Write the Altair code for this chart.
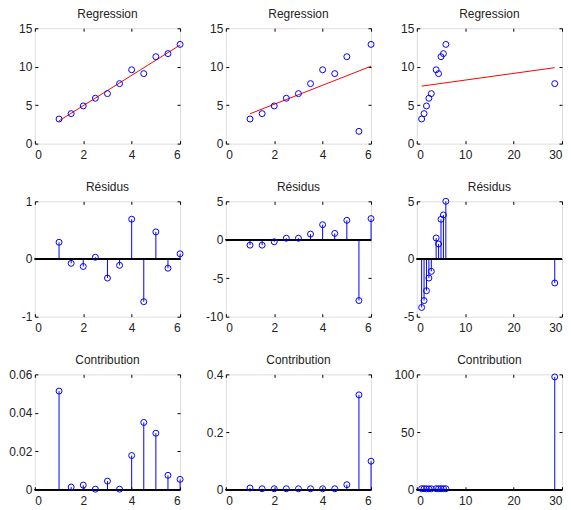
import altair as alt
import pandas as pd

# ---- data ----
x_base = [1, 1.5, 2, 2.5, 3, 3.5, 4, 4.5, 5, 5.5, 6]
y_base = [3.2, 3.9, 4.9, 5.9, 6.5, 7.8, 9.6, 9.1, 11.3, 11.7, 12.9]

x_case2 = [1, 1.5, 2, 2.5, 3, 3.5, 4, 4.5, 5, 5.5, 6]
y_case2 = [3.2, 3.9, 4.9, 5.9, 6.5, 7.8, 9.6, 9.1, 11.3, 1.6, 12.9]

x_case3 = [1, 1.5, 2, 2.5, 3, 28.5, 4, 4.5, 5, 5.5, 6]
y_case3 = [3.2, 3.9, 4.9, 5.9, 6.5, 7.8, 9.6, 9.1, 11.3, 11.7, 12.9]

res1 = [0.29, -0.075, -0.13, 0.03, -0.33, -0.11, 0.69, -0.74, 0.47, -0.16, 0.09]
res2 = [-0.7, -0.7, -0.26, 0.2, 0.2, 0.74, 1.96, 0.83, 2.53, -7.9, 2.75]
res3 = [-4.2, -3.6, -2.75, -1.65, -1.07, -2.08, 1.82, 1.3, 3.44, 3.82, 5.0]

con1 = [0.0513, 0.0014, 0.0024, 0.0003, 0.0045, 0.0003, 0.0178, 0.035, 0.0294, 0.0075, 0.0054]
con2 = [0.006, 0.0035, 0.0035, 0.0035, 0.0035, 0.0035, 0.0035, 0.0035, 0.0175, 0.329, 0.099]
con3 = [0.9, 0.9, 0.8, 0.8, 0.8, 97.8, 0.9, 0.9, 0.9, 0.9, 0.9]

xdoms = [[0, 6], [0, 6], [0, 30]]
xticks = [[0, 2, 4, 6], [0, 2, 4, 6], [0, 10, 20, 30]]
reg_ydom = [0, 15]
reg_yticks = [0, 5, 10, 15]
res_ydoms = [[-1, 1], [-10, 5], [-5, 5]]
res_yticks = [[-1, 0, 1], [-10, -5, 0, 5], [-5, 0, 5]]
con_ydoms = [[0, 0.06], [0, 0.4], [0, 100]]
con_yticks = [[0, 0.02, 0.04, 0.06], [0, 0.2, 0.4], [0, 50, 100]]

W, H = 146, 116
BLUE = "#0000ff"
RED = "#ff0000"
FONT = "Liberation Sans"
LBL = "'' + datum.value"


def xenc(dom, ticks, main):
    if main:
        ax = alt.Axis(orient="bottom", values=ticks, offset=-3, tickSize=3, domain=False,
                      grid=False, labelPadding=6, labelExpr=LBL, tickColor="black",
                      labelFont=FONT, labelFontSize=12, labelColor="#222", minExtent=0)
    else:
        ax = alt.Axis(orient="top", values=ticks, offset=-3, tickSize=3, domain=False,
                      grid=False, labels=False, tickColor="black", minExtent=0, maxExtent=0)
    return alt.X("x:Q", scale=alt.Scale(domain=dom, nice=False, zero=False), axis=ax, title=None)


def yenc(dom, ticks, main):
    if main:
        ax = alt.Axis(orient="left", values=ticks, offset=-3, tickSize=3, domain=False,
                      grid=False, labelPadding=3, labelExpr=LBL, tickColor="black",
                      labelFont=FONT, labelFontSize=12, labelColor="#222", minExtent=0)
    else:
        ax = alt.Axis(orient="right", values=ticks, offset=-3, tickSize=3, domain=False,
                      grid=False, labels=False, tickColor="black", minExtent=0, maxExtent=0)
    return alt.Y("y:Q", scale=alt.Scale(domain=dom, nice=False, zero=False), axis=ax, title=None)


def title(t):
    return alt.TitleParams(t, font=FONT, fontSize=12, fontWeight="normal", color="#222",
                           offset=1)


def reg_panel(xs, ys, i):
    df = pd.DataFrame({"x": xs, "y": ys})
    base = alt.Chart(df)
    line = base.transform_regression("x", "y").mark_line(color=RED, strokeWidth=1).encode(
        x=xenc(xdoms[i], xticks[i], False), y=yenc(reg_ydom, reg_yticks, False))
    pts = base.mark_point(shape="circle", filled=False, color=BLUE, size=36, strokeWidth=1,
                          opacity=1).encode(
        x=xenc(xdoms[i], xticks[i], True), y=yenc(reg_ydom, reg_yticks, True))
    return alt.layer(line, pts).resolve_axis(x="independent", y="independent").properties(
        width=W, height=H, title=title("Regression"))


def stem_panel(xs, vals, ydom, yticks, i, t):
    df = pd.DataFrame({"x": xs, "y": vals})
    base = alt.Chart(df)
    stems = base.mark_rule(color=BLUE, strokeWidth=1).encode(
        x=xenc(xdoms[i], xticks[i], False), y=yenc(ydom, yticks, False), y2=alt.datum(0))
    baseline = base.mark_rule(color="black", strokeWidth=1).encode(
        y=alt.YDatum(0, axis=None))
    pts = base.mark_point(shape="circle", filled=False, color=BLUE, size=36, strokeWidth=1,
                          opacity=1).encode(
        x=xenc(xdoms[i], xticks[i], True), y=yenc(ydom, yticks, True))
    return alt.layer(stems, baseline, pts).resolve_axis(x="independent", y="independent").properties(
        width=W, height=H, title=title(t))


xs_all = [x_base, x_case2, x_case3]
ys_all = [y_base, y_case2, y_case3]
res_all = [res1, res2, res3]
con_all = [con1, con2, con3]

panels = []
for i in range(3):
    panels.append(reg_panel(xs_all[i], ys_all[i], i))
for i in range(3):
    panels.append(stem_panel(xs_all[i], res_all[i], res_ydoms[i], res_yticks[i], i, "Résidus"))
for i in range(3):
    panels.append(stem_panel(xs_all[i], con_all[i], con_ydoms[i], con_yticks[i], i, "Contribution"))

chart = alt.concat(*panels, columns=3, spacing=alt.RowColnumber(row=58, column=46),
                   bounds="flush").properties(
    padding={"left": 0, "top": -2, "right": 0, "bottom": 0}).configure_view(
    stroke="black", strokeWidth=1).configure(background="white")

chart.save("out.html", embed_options={"renderer": "svg", "actions": False})
